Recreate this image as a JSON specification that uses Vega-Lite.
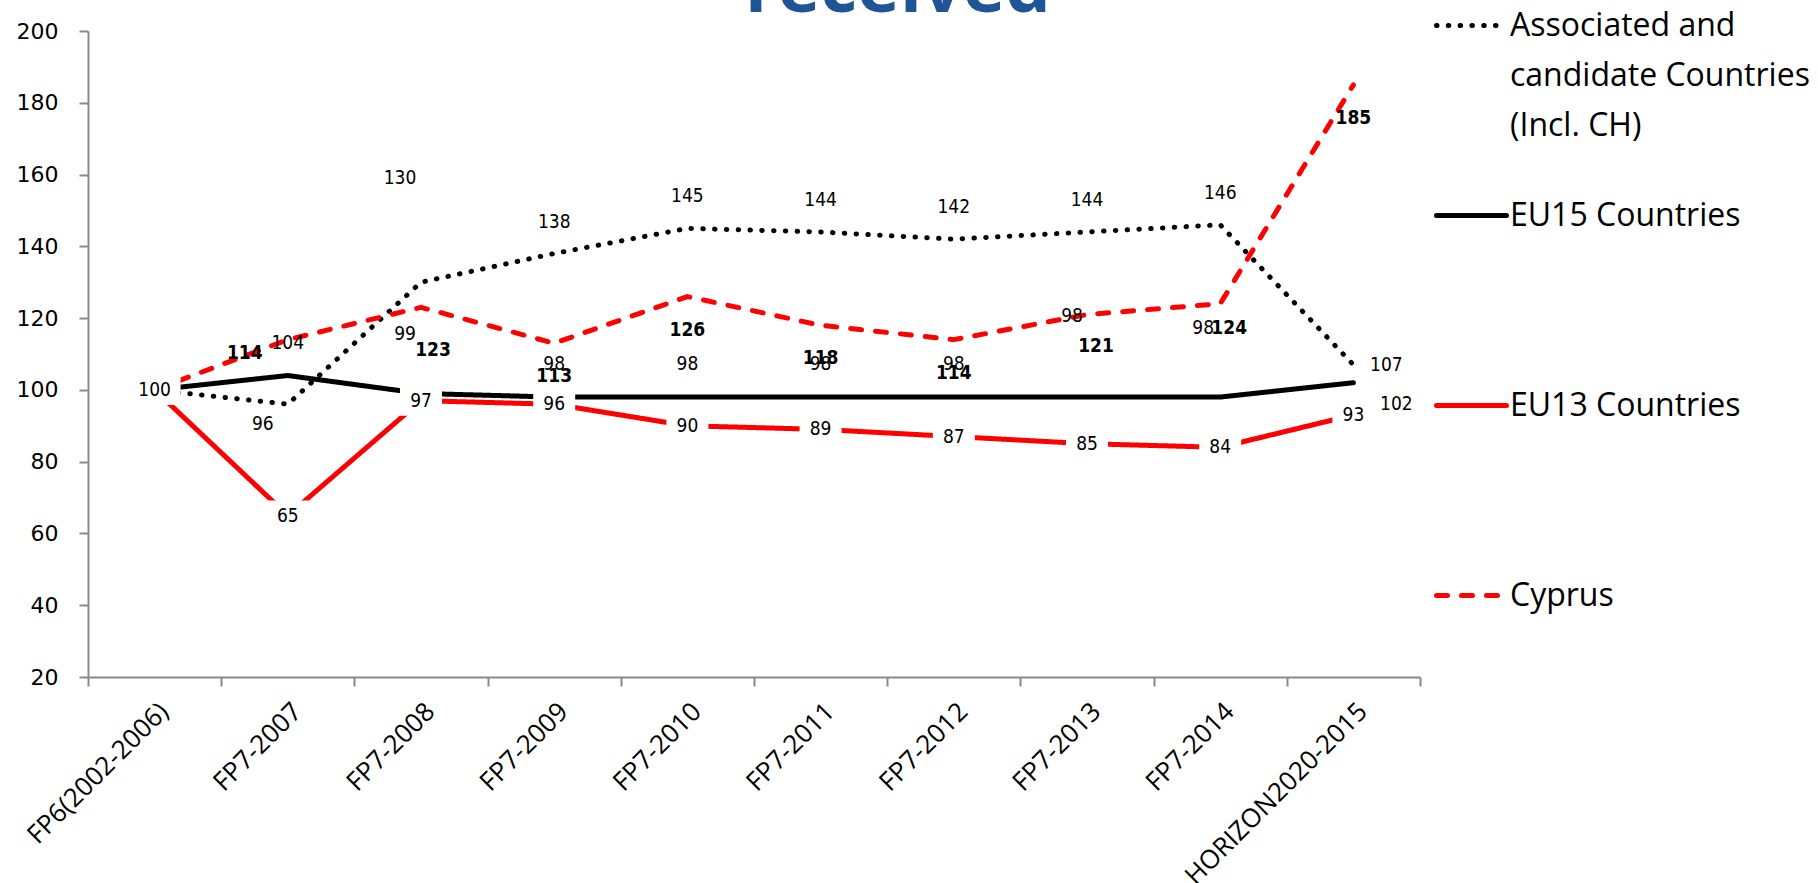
{
  "$schema": "https://vega.github.io/schema/vega-lite/v6.json",
  "autosize": {"type": "none"},
  "padding": {"left": 88, "top": 31, "right": 398, "bottom": 206},
  "width": 1332,
  "height": 646,
  "background": "white",
  "config": {"view": {"stroke": null}},
  "title": {"text": "received", "font": "Open Sans", "fontSize": 72, "fontWeight": "bold", "color": "#1F5597", "anchor": "middle", "frame": "group", "baseline": "alphabetic", "offset": -96, "dx": 144},
  "data": {"values": [
    {"period": "FP6(2002-2006)", "series": "Associated and candidate Countries (Incl. CH)", "value": 100},
    {"period": "FP7-2007", "series": "Associated and candidate Countries (Incl. CH)", "value": 96},
    {"period": "FP7-2008", "series": "Associated and candidate Countries (Incl. CH)", "value": 130},
    {"period": "FP7-2009", "series": "Associated and candidate Countries (Incl. CH)", "value": 138},
    {"period": "FP7-2010", "series": "Associated and candidate Countries (Incl. CH)", "value": 145},
    {"period": "FP7-2011", "series": "Associated and candidate Countries (Incl. CH)", "value": 144},
    {"period": "FP7-2012", "series": "Associated and candidate Countries (Incl. CH)", "value": 142},
    {"period": "FP7-2013", "series": "Associated and candidate Countries (Incl. CH)", "value": 144},
    {"period": "FP7-2014", "series": "Associated and candidate Countries (Incl. CH)", "value": 146},
    {"period": "HORIZON2020-2015", "series": "Associated and candidate Countries (Incl. CH)", "value": 107},
    {"period": "FP6(2002-2006)", "series": "EU15 Countries", "value": 100},
    {"period": "FP7-2007", "series": "EU15 Countries", "value": 104},
    {"period": "FP7-2008", "series": "EU15 Countries", "value": 99},
    {"period": "FP7-2009", "series": "EU15 Countries", "value": 98},
    {"period": "FP7-2010", "series": "EU15 Countries", "value": 98},
    {"period": "FP7-2011", "series": "EU15 Countries", "value": 98},
    {"period": "FP7-2012", "series": "EU15 Countries", "value": 98},
    {"period": "FP7-2013", "series": "EU15 Countries", "value": 98},
    {"period": "FP7-2014", "series": "EU15 Countries", "value": 98},
    {"period": "HORIZON2020-2015", "series": "EU15 Countries", "value": 102},
    {"period": "FP6(2002-2006)", "series": "EU13 Countries", "value": 100},
    {"period": "FP7-2007", "series": "EU13 Countries", "value": 65},
    {"period": "FP7-2008", "series": "EU13 Countries", "value": 97},
    {"period": "FP7-2009", "series": "EU13 Countries", "value": 96},
    {"period": "FP7-2010", "series": "EU13 Countries", "value": 90},
    {"period": "FP7-2011", "series": "EU13 Countries", "value": 89},
    {"period": "FP7-2012", "series": "EU13 Countries", "value": 87},
    {"period": "FP7-2013", "series": "EU13 Countries", "value": 85},
    {"period": "FP7-2014", "series": "EU13 Countries", "value": 84},
    {"period": "HORIZON2020-2015", "series": "EU13 Countries", "value": 93},
    {"period": "FP6(2002-2006)", "series": "Cyprus", "value": 100},
    {"period": "FP7-2007", "series": "Cyprus", "value": 114},
    {"period": "FP7-2008", "series": "Cyprus", "value": 123},
    {"period": "FP7-2009", "series": "Cyprus", "value": 113},
    {"period": "FP7-2010", "series": "Cyprus", "value": 126},
    {"period": "FP7-2011", "series": "Cyprus", "value": 118},
    {"period": "FP7-2012", "series": "Cyprus", "value": 114},
    {"period": "FP7-2013", "series": "Cyprus", "value": 121},
    {"period": "FP7-2014", "series": "Cyprus", "value": 124},
    {"period": "HORIZON2020-2015", "series": "Cyprus", "value": 185}
  ]},
  "encoding": {
    "x": {"field": "period", "type": "nominal", "sort": null,
      "scale": {"type": "band", "paddingInner": 0, "paddingOuter": 0},
      "axis": {"title": null, "tickBand": "extent", "labelAngle": -45, "labelAlign": "right", "labelBaseline": "top", "labelPadding": 12, "labelLimit": 500, "labelFont": "Open Sans", "labelFontSize": 26, "labelColor": "#000000", "domainColor": "#898989", "domainWidth": 2, "tickColor": "#898989", "tickWidth": 2, "tickSize": 9, "grid": false}},
    "y": {"field": "value", "type": "quantitative",
      "scale": {"domain": [20, 200], "nice": false, "zero": false},
      "axis": {"title": null, "values": [20, 40, 60, 80, 100, 120, 140, 160, 180, 200], "labelFont": "DejaVu Sans", "labelFontSize": 22, "labelColor": "#000000", "labelPadding": 21, "domainColor": "#898989", "domainWidth": 2, "tickColor": "#898989", "tickWidth": 2, "tickSize": 9, "grid": false}}
  },
  "layer": [
    {
      "mark": {"type": "line", "strokeWidth": 5, "strokeCap": "round", "strokeJoin": "round"},
      "encoding": {
        "color": {"field": "series", "type": "nominal",
          "scale": {"domain": ["Associated and candidate Countries (Incl. CH)", "EU15 Countries", "EU13 Countries", "Cyprus"], "range": ["#000000", "#000000", "#FF0000", "#FF0000"]},
          "legend": {"title": null, "orient": "none", "legendX": 1346, "legendY": -43, "padding": 0, "symbolType": "stroke", "symbolSize": 4900, "symbolStrokeWidth": 5, "labelFont": "Open Sans", "labelFontSize": 32, "labelColor": "#000000", "labelOffset": 1, "labelLimit": 600, "rowPadding": 36,
            "labelExpr": "datum.label == 'Associated and candidate Countries (Incl. CH)' ? ['Associated and', 'candidate Countries', '(Incl. CH)'] : [datum.label, '', '']",
            "encode": {"labels": {"update": {"lineHeight": {"value": 50}}}, "symbols": {"update": {"strokeCap": {"value": "round"}}}}}},
        "strokeDash": {"field": "series", "type": "nominal",
          "scale": {"domain": ["Associated and candidate Countries (Incl. CH)", "EU15 Countries", "EU13 Countries", "Cyprus"], "range": [[0.5, 11.3], [1, 0], [1, 0], [11, 14]]},
          "legend": {"title": null, "orient": "none", "legendX": 1346, "legendY": -43, "padding": 0, "symbolType": "stroke", "symbolSize": 4900, "symbolStrokeWidth": 5, "labelFont": "Open Sans", "labelFontSize": 32, "labelColor": "#000000", "labelOffset": 1, "labelLimit": 600, "rowPadding": 36,
            "labelExpr": "datum.label == 'Associated and candidate Countries (Incl. CH)' ? ['Associated and', 'candidate Countries', '(Incl. CH)'] : [datum.label, '', '']",
            "encode": {"labels": {"update": {"lineHeight": {"value": 50}}}, "symbols": {"update": {"strokeCap": {"value": "round"}}}}}}
      }
    },
    {
      "transform": [{"filter": "datum.series == 'EU13 Countries' && datum.value < 100"}],
      "mark": {"type": "point", "shape": "M-1,-0.72H1V0.72H-1Z", "size": 1764, "filled": true, "color": "#FFFFFF", "opacity": 1, "strokeWidth": 0}
    },
    {
      "transform": [{"filter": "datum.series == 'EU13 Countries' && datum.value >= 100"}],
      "mark": {"type": "point", "shape": "M-1,-0.58H1V0.58H-1Z", "size": 2704, "filled": true, "color": "#FFFFFF", "opacity": 1, "strokeWidth": 0}
    },
    {
      "transform": [{"filter": "datum.series == 'EU13 Countries'"}],
      "mark": {"type": "text", "font": "DejaVu Sans Condensed", "fontSize": 19, "color": "#000000", "baseline": "middle"},
      "encoding": {"text": {"field": "value", "type": "quantitative"}}
    },
    {
      "transform": [{"filter": "datum.series == 'Associated and candidate Countries (Incl. CH)' && datum.period == 'FP7-2007'"}],
      "mark": {"type": "text", "font": "DejaVu Sans Condensed", "fontSize": 19, "color": "#000000", "baseline": "middle", "dx": -25, "dy": 20},
      "encoding": {"text": {"field": "value", "type": "quantitative"}}
    },
    {
      "transform": [{"filter": "datum.series == 'Associated and candidate Countries (Incl. CH)' && datum.period == 'FP7-2008'"}],
      "mark": {"type": "text", "font": "DejaVu Sans Condensed", "fontSize": 19, "color": "#000000", "baseline": "middle", "dx": -21, "dy": -104},
      "encoding": {"text": {"field": "value", "type": "quantitative"}}
    },
    {
      "transform": [{"filter": {"and": [{"field": "series", "equal": "Associated and candidate Countries (Incl. CH)"}, {"field": "period", "oneOf": ["FP7-2009", "FP7-2010", "FP7-2011", "FP7-2012", "FP7-2013", "FP7-2014"]}]}}],
      "mark": {"type": "text", "font": "DejaVu Sans Condensed", "fontSize": 19, "color": "#000000", "baseline": "middle", "dy": -32},
      "encoding": {"text": {"field": "value", "type": "quantitative"}}
    },
    {
      "transform": [{"filter": "datum.series == 'Associated and candidate Countries (Incl. CH)' && datum.period == 'HORIZON2020-2015'"}],
      "mark": {"type": "text", "font": "DejaVu Sans Condensed", "fontSize": 19, "color": "#000000", "baseline": "middle", "dx": 33, "dy": 0},
      "encoding": {"text": {"field": "value", "type": "quantitative"}}
    },
    {
      "transform": [{"filter": {"and": [{"field": "series", "equal": "EU15 Countries"}, {"field": "period", "oneOf": ["FP7-2007", "FP7-2009", "FP7-2010", "FP7-2011", "FP7-2012"]}]}}],
      "mark": {"type": "text", "font": "DejaVu Sans Condensed", "fontSize": 19, "color": "#000000", "baseline": "middle", "dy": -33},
      "encoding": {"text": {"field": "value", "type": "quantitative"}}
    },
    {
      "transform": [{"filter": "datum.series == 'EU15 Countries' && datum.period == 'FP7-2008'"}],
      "mark": {"type": "text", "font": "DejaVu Sans Condensed", "fontSize": 19, "color": "#000000", "baseline": "middle", "dx": -16, "dy": -59},
      "encoding": {"text": {"field": "value", "type": "quantitative"}}
    },
    {
      "transform": [{"filter": "datum.series == 'EU15 Countries' && datum.period == 'FP7-2013'"}],
      "mark": {"type": "text", "font": "DejaVu Sans Condensed", "fontSize": 19, "color": "#000000", "baseline": "middle", "dx": -15, "dy": -81},
      "encoding": {"text": {"field": "value", "type": "quantitative"}}
    },
    {
      "transform": [{"filter": "datum.series == 'EU15 Countries' && datum.period == 'FP7-2014'"}],
      "mark": {"type": "text", "font": "DejaVu Sans Condensed", "fontSize": 19, "color": "#000000", "baseline": "middle", "dx": -17, "dy": -69},
      "encoding": {"text": {"field": "value", "type": "quantitative"}}
    },
    {
      "transform": [{"filter": "datum.series == 'EU15 Countries' && datum.period == 'HORIZON2020-2015'"}],
      "mark": {"type": "text", "font": "DejaVu Sans Condensed", "fontSize": 19, "color": "#000000", "baseline": "middle", "dx": 43, "dy": 21},
      "encoding": {"text": {"field": "value", "type": "quantitative"}}
    },
    {
      "transform": [{"filter": "datum.series == 'Cyprus' && datum.period == 'FP7-2007'"}],
      "mark": {"type": "text", "font": "DejaVu Sans Condensed", "fontSize": 19, "fontWeight": "bold", "color": "#000000", "baseline": "middle", "dx": -43, "dy": 13},
      "encoding": {"text": {"field": "value", "type": "quantitative"}}
    },
    {
      "transform": [{"filter": "datum.series == 'Cyprus' && datum.period == 'FP7-2008'"}],
      "mark": {"type": "text", "font": "DejaVu Sans Condensed", "fontSize": 19, "fontWeight": "bold", "color": "#000000", "baseline": "middle", "dx": 12, "dy": 43},
      "encoding": {"text": {"field": "value", "type": "quantitative"}}
    },
    {
      "transform": [{"filter": {"and": [{"field": "series", "equal": "Cyprus"}, {"field": "period", "oneOf": ["FP7-2009", "FP7-2010", "FP7-2011", "FP7-2012", "HORIZON2020-2015"]}]}}],
      "mark": {"type": "text", "font": "DejaVu Sans Condensed", "fontSize": 19, "fontWeight": "bold", "color": "#000000", "baseline": "middle", "dy": 33},
      "encoding": {"text": {"field": "value", "type": "quantitative"}}
    },
    {
      "transform": [{"filter": "datum.series == 'Cyprus' && datum.period == 'FP7-2013'"}],
      "mark": {"type": "text", "font": "DejaVu Sans Condensed", "fontSize": 19, "fontWeight": "bold", "color": "#000000", "baseline": "middle", "dx": 9, "dy": 31},
      "encoding": {"text": {"field": "value", "type": "quantitative"}}
    },
    {
      "transform": [{"filter": "datum.series == 'Cyprus' && datum.period == 'FP7-2014'"}],
      "mark": {"type": "text", "font": "DejaVu Sans Condensed", "fontSize": 19, "fontWeight": "bold", "color": "#000000", "baseline": "middle", "dx": 9, "dy": 24},
      "encoding": {"text": {"field": "value", "type": "quantitative"}}
    }
  ]
}
